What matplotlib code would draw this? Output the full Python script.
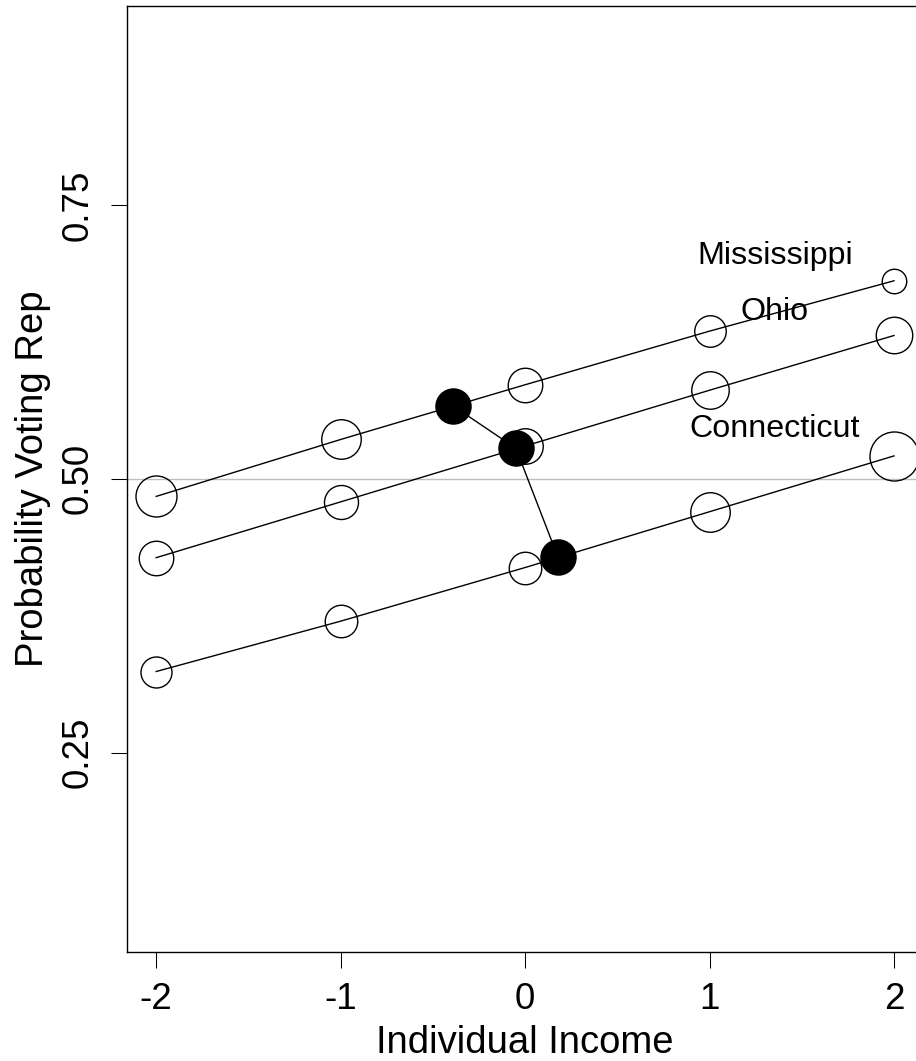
import matplotlib
matplotlib.use("Agg")
import matplotlib.pyplot as plt

plt.rcParams["font.family"] = ["Liberation Sans", "DejaVu Sans"]

# income levels on the x axis
income = [-2, -1, 0, 1, 2]

states = ["Mississippi", "Ohio", "Connecticut"]

# probability of voting Republican
p_mississippi = [0.484, 0.536, 0.586, 0.635, 0.681]
p_ohio = [0.428, 0.479, 0.530, 0.581, 0.631]
p_connecticut = [0.324, 0.370, 0.419, 0.470, 0.521]

# relative weight of each cell (drawn as circle diameter, px)
w_mississippi = [41, 39.5, 34.5, 31.5, 24.5]
w_ohio = [34.5, 34, 35.5, 37.5, 36.5]
w_connecticut = [31, 32.5, 32.5, 39.5, 49]

# state averages (filled dots), joined by a line
avg_income = [-0.39, -0.05, 0.178]
avg_prob = [0.5666, 0.528, 0.4286]

# label anchor points
label_x = [1.355, 1.355, 1.355]
label_y = [0.7035, 0.6525, 0.5454]

FS_TICK = 26.5
FS_LAB = 27.5
FS_TEXT = 23.2


def px2pt(d):
    return d * 72 / 100.0


def main():
    fig = plt.figure(figsize=(9.16, 10.61), dpi=100)
    ax = fig.add_axes([0.1383, 0.1030, 0.8699, 0.8913])

    ax.axhline(0.5, color="#bebebe", lw=1.0, zorder=1)

    series = [(p_mississippi, w_mississippi),
              (p_ohio, w_ohio),
              (p_connecticut, w_connecticut)]
    for p, w in series:
        ax.plot(income, p, color="black", lw=1.0, zorder=2)
        for xi, yi, wi in zip(income, p, w):
            ax.plot(xi, yi, "o", ms=px2pt(wi), mfc="none", mec="black",
                    mew=1.0, zorder=3)

    ax.plot(avg_income, avg_prob, color="black", lw=1.0, zorder=4)
    ax.plot(avg_income, avg_prob, "o", ms=px2pt(36.5), mfc="black",
            mec="black", mew=0, ls="none", zorder=5)

    for name, tx, ty in zip(states, label_x, label_y):
        ax.text(tx, ty, name, ha="center", va="center", fontsize=FS_TEXT,
                zorder=6)

    ax.set_xlim(-2.16, 2.16)
    ax.set_ylim(0.068, 0.932)
    ax.set_xticks(income)
    ax.set_xticklabels([str(v) for v in income])
    ax.set_yticks([0.25, 0.50, 0.75])
    ax.set_yticklabels(["0.25", "0.50", "0.75"], rotation=90, va="center")

    for s in ax.spines.values():
        s.set_linewidth(1.0)
    ax.spines["right"].set_visible(False)
    ax.tick_params(direction="out", length=11.5, width=0.75,
                   labelsize=FS_TICK, top=False, right=False)
    ax.tick_params(axis="x", pad=10)
    ax.tick_params(axis="y", pad=11)

    ax.set_xlabel("Individual Income", fontsize=FS_LAB, labelpad=6)
    ax.set_ylabel("Probability Voting Rep", fontsize=FS_LAB, labelpad=7)

    fig.savefig("out.png", dpi=100)


if __name__ == "__main__":
    main()
